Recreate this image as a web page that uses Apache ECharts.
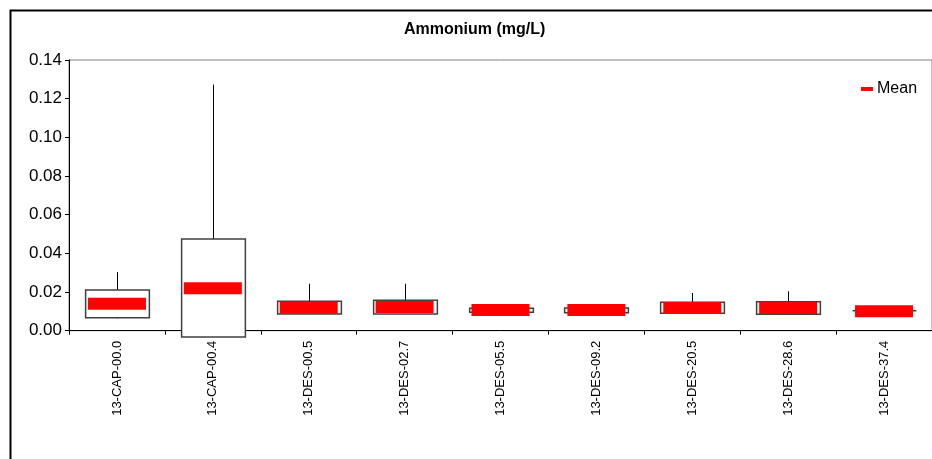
<!DOCTYPE html>
<html>
<head>
<meta charset="utf-8">
<script src="https://cdn.jsdelivr.net/npm/echarts@6/dist/echarts.min.js"></script>
<style>
html,body{margin:0;padding:0;background:#fff;}
#main{width:932px;height:459px;}
</style>
</head>
<body>
<div id="main"></div>
<script>
const categories = ['13-CAP-00.0','13-CAP-00.4','13-DES-00.5','13-DES-02.7','13-DES-05.5','13-DES-09.2','13-DES-20.5','13-DES-28.6','13-DES-37.4'];
const whiskerMax = [0.0303, 0.1273, 0.0243, 0.0243, 0.0116, 0.0117, 0.0195, 0.0204, 0.0103];
const q3Values   = [0.0210, 0.0474, 0.0152, 0.0157, 0.0116, 0.0117, 0.0147, 0.0150, 0.0103];
const q1Values   = [0.0067, -0.0033, 0.0086, 0.0086, 0.0095, 0.0093, 0.0090, 0.0085, 0.0103];
const whiskerMin = [0.0064, -0.0033, 0.0084, 0.0084, 0.0095, 0.0093, 0.0089, 0.0084, 0.0103];
const meanValues = [0.0139, 0.0220, 0.0119, 0.0122, 0.0107, 0.0107, 0.0117, 0.0117, 0.0101];
const yTicks = {min: 0, max: 0.14, interval: 0.02};

const FONT = "'Liberation Sans', Arial, sans-serif";
const chart = echarts.init(document.getElementById('main'));

function renderBox(params, api) {
  const x = api.value(0);
  const pMin = api.coord([x, api.value(1)]);
  const pQ1 = api.coord([x, api.value(2)]);
  const pQ3 = api.coord([x, api.value(3)]);
  const pMax = api.coord([x, api.value(4)]);
  const w = api.size([1, 0])[0] * 0.665;
  const cx = Math.round(pQ1[0]) + 0.5;
  return {
    type: 'group',
    children: [
      {type: 'line', shape: {x1: cx, y1: pQ3[1], x2: cx, y2: pMax[1]}, style: {stroke: '#000', lineWidth: 1}},
      {type: 'line', shape: {x1: cx, y1: pQ1[1], x2: cx, y2: pMin[1]}, style: {stroke: '#000', lineWidth: 1}},
      {type: 'rect', shape: {x: cx - w / 2, y: pQ3[1], width: w, height: pQ1[1] - pQ3[1]},
        style: {fill: '#fff', stroke: '#404040', lineWidth: 1.5}}
    ]
  };
}

chart.setOption({
  animation: false,
  backgroundColor: '#fff',
  title: {
    text: 'Ammonium (mg/L)',
    left: 404, top: 22,
    padding: 0,
    textStyle: {fontFamily: FONT, fontSize: 16, fontWeight: 'bold', color: '#000'}
  },
  legend: {
    data: ['Mean'],
    left: 861, top: 81,
    padding: 0,
    icon: 'rect',
    itemWidth: 12, itemHeight: 4,
    itemGap: 5,
    itemStyle: {opacity: 1},
    textStyle: {fontFamily: FONT, fontSize: 16, color: '#000', padding: [0, 0, 0, -1]}
  },
  graphic: [
    {type: 'rect', left: 8, top: 8, z: 100, silent: true,
      shape: {x: 0, y: 0, width: 960, height: 480},
      style: {fill: null, stroke: '#000', lineWidth: 2}}
  ],
  grid: {
    left: 69, top: 60, width: 866, height: 270.7,
    show: true, borderColor: '#808080', borderWidth: 1, backgroundColor: 'transparent'
  },
  xAxis: {
    type: 'category',
    data: categories,
    boundaryGap: true,
    axisLine: {lineStyle: {color: '#000', width: 1}},
    axisTick: {show: true, length: 4, alignWithLabel: false, lineStyle: {color: '#000'}},
    axisLabel: {rotate: 90, margin: 10, interval: 0, color: '#000', fontFamily: FONT, fontSize: 13},
    splitLine: {show: false}
  },
  yAxis: {
    type: 'value',
    min: yTicks.min, max: yTicks.max, interval: yTicks.interval,
    axisLine: {show: true, lineStyle: {color: '#000', width: 1}},
    axisTick: {show: true, length: 4, lineStyle: {color: '#000'}},
    axisLabel: {color: '#000', fontFamily: FONT, fontSize: 17, margin: 7,
      formatter: v => v.toFixed(2)},
    splitLine: {show: false}
  },
  series: [
    {
      name: 'Box',
      type: 'custom',
      renderItem: renderBox,
      clip: false,
      z: 3,
      encode: {x: 0, y: [1, 2, 3, 4]},
      data: categories.map((c, i) => [i, whiskerMin[i], q1Values[i], q3Values[i], whiskerMax[i]])
    },
    {
      name: 'Mean',
      type: 'scatter',
      symbol: 'rect',
      symbolSize: [58, 12],
      z: 5,
      itemStyle: {color: '#ff0000', opacity: 1},
      emphasis: {disabled: true},
      data: meanValues
    }
  ]
});
</script>
</body>
</html>
